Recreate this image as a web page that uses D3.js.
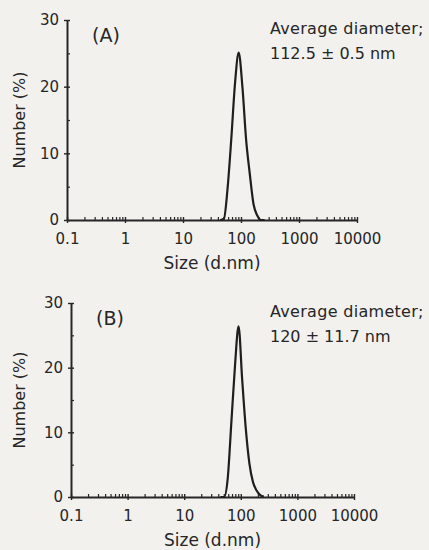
<!DOCTYPE html>
<head>
    <meta charset="utf-8" />
    <script src="https://d3js.org/d3.v7.min.js"></script>
</head>
<style>
    body { margin: 0; background: #f2f1ee; }
    svg { display: block; }
    text { font-family: "DejaVu Sans", sans-serif; fill: #262626; }
</style>
<body>
</body>
<script>
// size bins (d.nm) and number distribution (%)
var sizeBins = [43.82, 50.75, 58.77, 68.06, 78.82, 91.28, 105.7, 122.4, 141.8, 164.2, 190.1, 220.2, 255.0];
var numberA = [0, 0.2, 4.8, 12.2, 20.5, 25.1, 20.0, 12.1, 6.9, 2.4, 0.7, 0, 0];
var numberB = [0, 0, 2.9, 11.5, 20.2, 26.4, 18.2, 10.6, 5.2, 2.3, 1.0, 0.3, 0.05];

var xMajor = [0.1, 1, 10, 100, 1000, 10000];
var xLabels = ["0.1", "1", "10", "100", "1000", "10000"];
var yMajor = [0, 10, 20, 30];
var yMinor = [5, 15, 25];

var panelTags = ["(A)", "(B)"];
var avgLine1 = ["Average diameter;", "Average diameter;"];
var avgLine2 = ["112.5 \u00b1 0.5 nm", "120 \u00b1 11.7 nm"];

var xMinor = [];
for (var p = -1; p < 4; p++) {
    for (var m = 2; m < 10; m++) xMinor.push(m * Math.pow(10, p));
}

var svg = d3.select("body").append("svg")
    .attr("width", 429)
    .attr("height", 550);

function drawPanel(i, values, box) {
    var x = d3.scaleLog().domain([0.1, 10000]).range([box.left, box.right]);
    var y = d3.scaleLinear().domain([0, 30]).range([box.bottom, box.top]);

    var g = svg.append("g");

    // minor ticks first, pointing into the plot
    g.append("g")
        .attr("transform", `translate(0,${box.bottom})`)
        .call(d3.axisBottom(x).tickValues(xMinor).tickSize(-3).tickFormat(""))
        .call(s => s.select(".domain").remove())
        .selectAll("line").attr("stroke", "#262626").attr("stroke-width", 1.2);

    g.append("g")
        .attr("transform", `translate(${box.left},0)`)
        .call(d3.axisLeft(y).tickValues(yMinor).tickSize(-3).tickFormat(""))
        .call(s => s.select(".domain").remove())
        .selectAll("line").attr("stroke", "#262626").attr("stroke-width", 1.2);

    var xAxis = g.append("g")
        .attr("transform", `translate(0,${box.bottom})`)
        .call(d3.axisBottom(x).tickValues(xMajor).tickSizeInner(3).tickSizeOuter(0).tickPadding(10)
            .tickFormat((d, k) => xLabels[k]));
    xAxis.selectAll("line").attr("y1", -3).attr("stroke", "#262626").attr("stroke-width", 1.4);

    var yAxis = g.append("g")
        .attr("transform", `translate(${box.left},0)`)
        .call(d3.axisLeft(y).tickValues(yMajor).tickSizeInner(3).tickSizeOuter(0).tickPadding(5));
    yAxis.selectAll("line").attr("x1", 3).attr("stroke", "#262626").attr("stroke-width", 1.4);

    g.selectAll(".domain").attr("stroke", "#262626").attr("stroke-width", 2);
    g.selectAll(".tick text")
        .style("font-size", "15px")
        .attr("fill", "#262626");

    // distribution curve
    var line = d3.line()
        .x((d, k) => x(sizeBins[k]))
        .y(d => y(d))
        .curve(d3.curveMonotoneX);
    g.append("path")
        .datum(values)
        .attr("d", line)
        .attr("fill", "none")
        .attr("stroke", "#1e1e1e")
        .attr("stroke-width", 2.2);

    // titles
    g.append("text")
        .attr("x", (box.left + box.right) / 2)
        .attr("y", box.bottom + 49)
        .attr("text-anchor", "middle")
        .style("font-size", "17px")
        .text("Size (d.nm)");

    g.append("text")
        .attr("transform", `translate(25,${(box.top + box.bottom) / 2}) rotate(-90)`)
        .attr("text-anchor", "middle")
        .style("font-size", "16px")
        .text("Number (%)");

    g.append("text")
        .attr("x", box.left + 25)
        .attr("y", box.top + 22)
        .style("font-size", "19px")
        .text(panelTags[i]);

    g.append("text")
        .attr("x", 270)
        .attr("y", box.top + 14)
        .style("font-size", "16px")
        .style("letter-spacing", "0.3px")
        .text(avgLine1[i]);

    g.append("text")
        .attr("x", 270)
        .attr("y", box.top + 39)
        .style("font-size", "16px")
        .text(avgLine2[i]);
}

drawPanel(0, numberA, {left: 67, right: 357, top: 20, bottom: 220});
drawPanel(1, numberB, {left: 71, right: 354, top: 303, bottom: 497});
</script>
